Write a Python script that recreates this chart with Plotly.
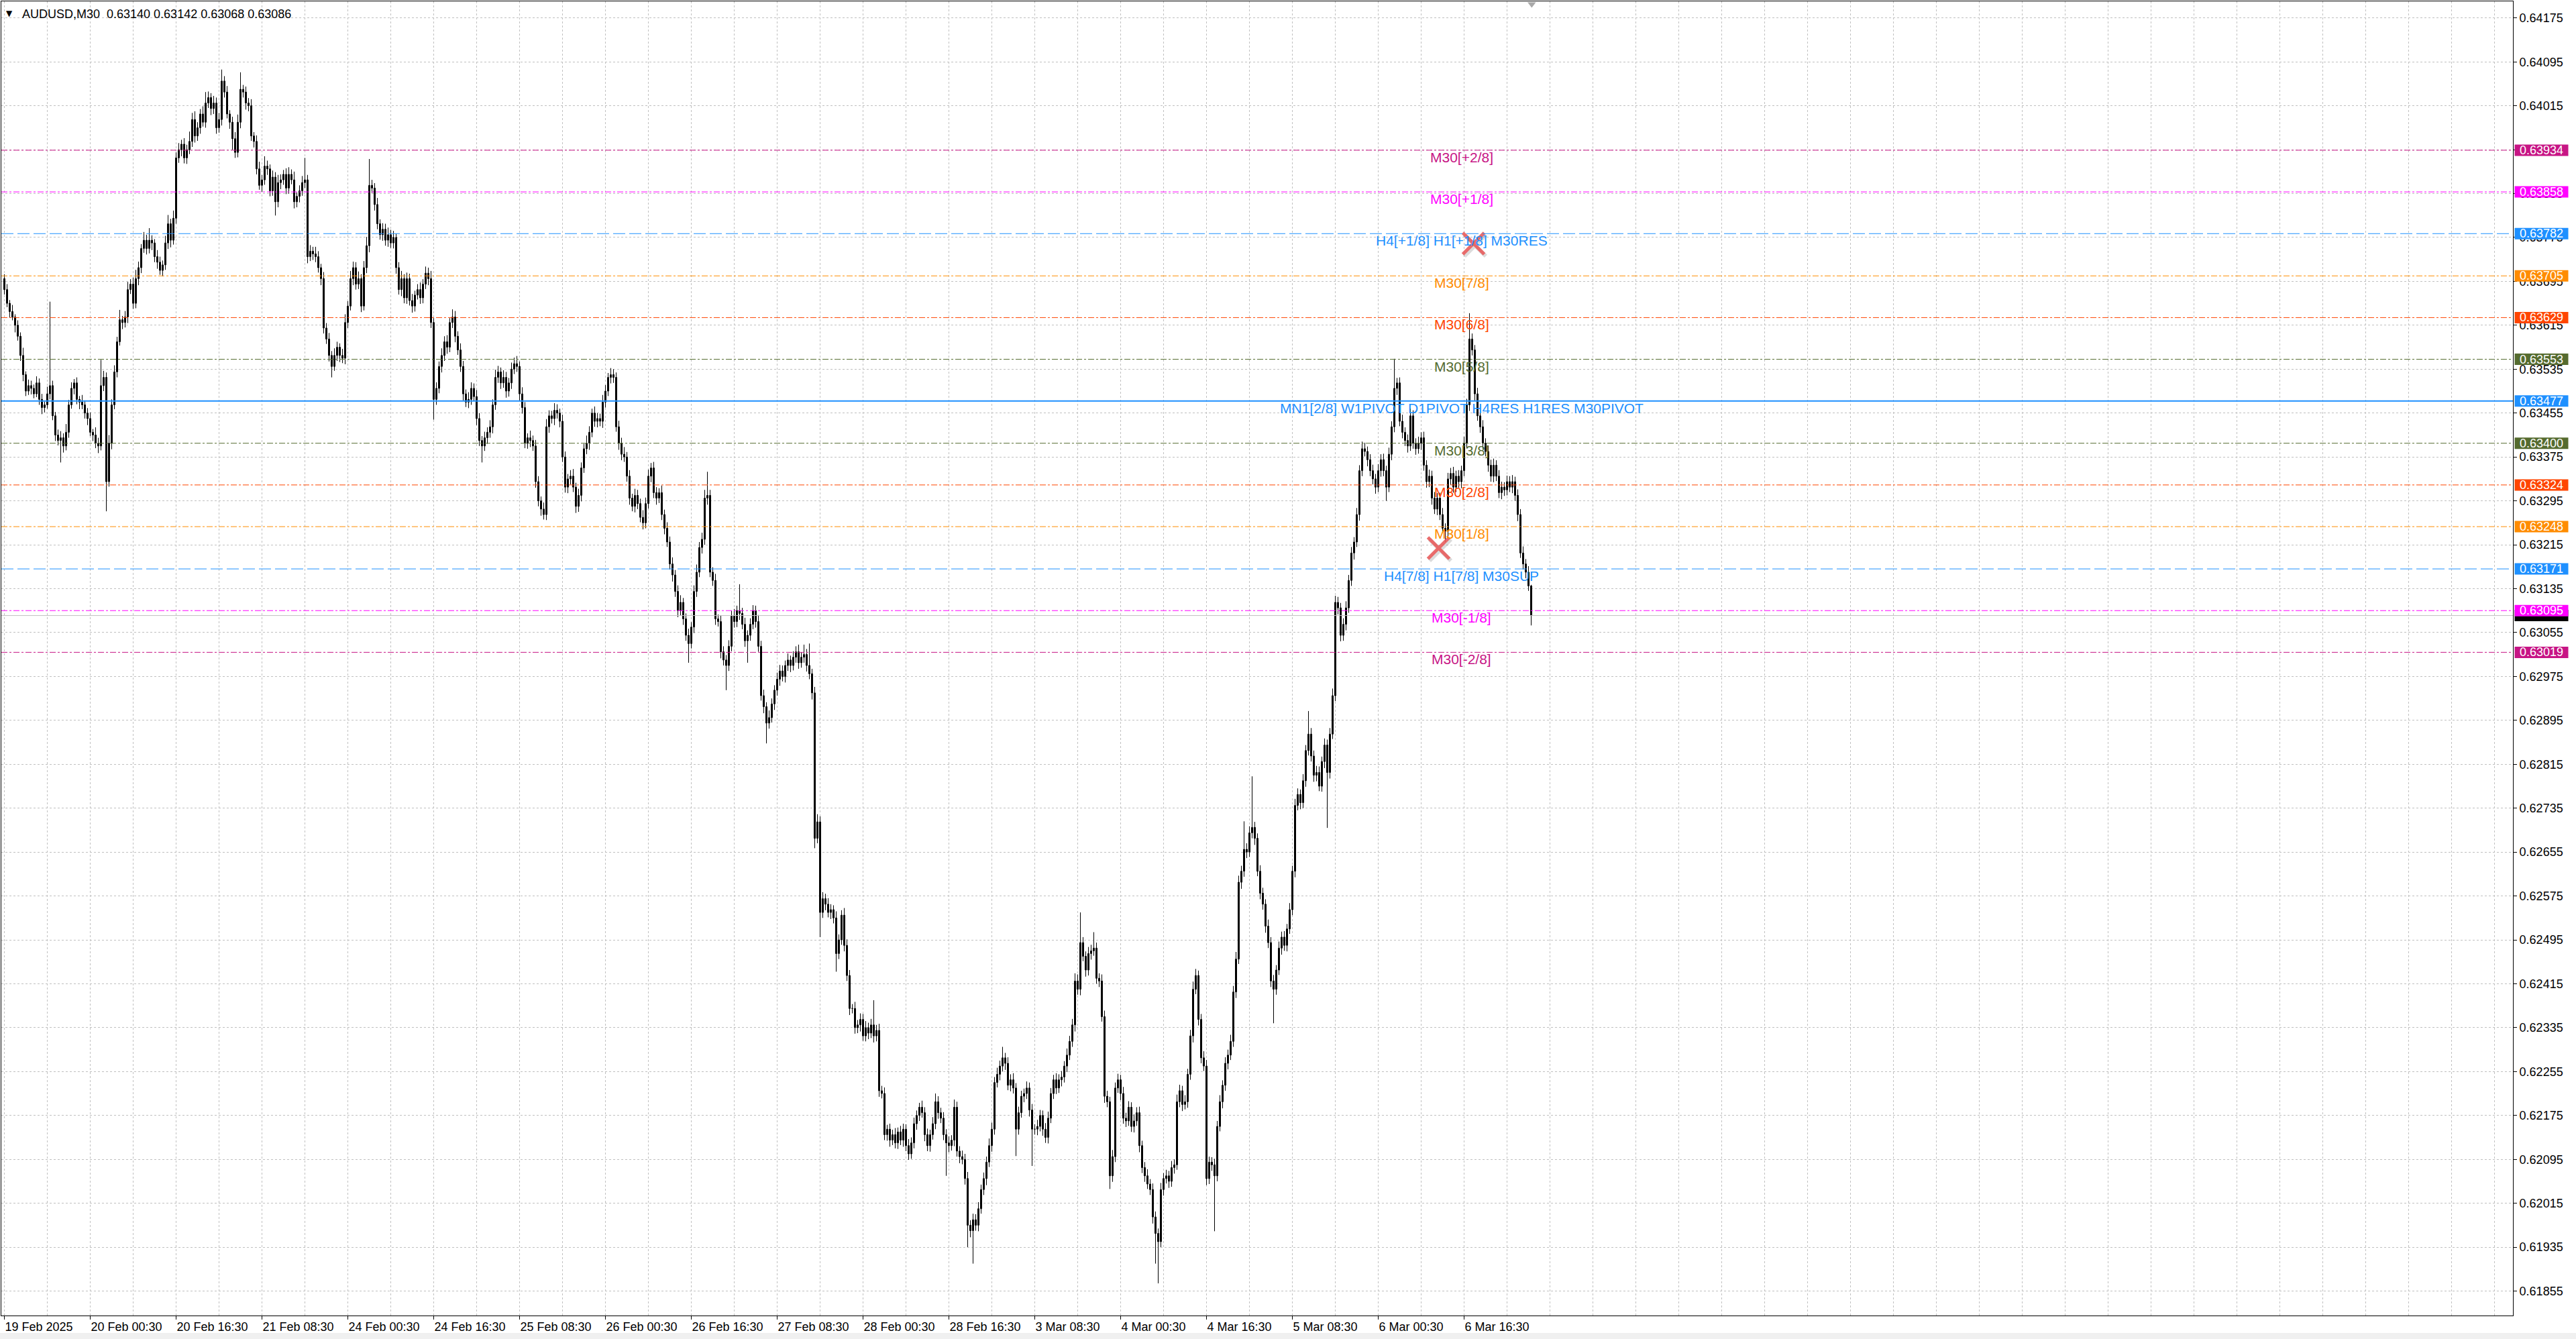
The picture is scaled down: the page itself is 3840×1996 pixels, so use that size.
import plotly.graph_objects as go

# ---------------- data (prices in points: price = 0.60000 + pts * 0.00001) ----------------
PRICE_BASE = 0.60000
POINT = 0.00001

first_open_pts = 3700
close_pts = [
    3680, 3655, 3640, 3630, 3615, 3595, 3560, 3525, 3495, 3505,
    3500, 3490, 3510, 3480, 3465, 3470, 3490, 3505, 3450, 3415,
    3405, 3410, 3395, 3420, 3470, 3500, 3510, 3480, 3475, 3470,
    3455, 3445, 3420, 3415, 3400, 3395, 3505, 3520, 3330, 3400,
    3470, 3530, 3585, 3625, 3620, 3630, 3680, 3690, 3655, 3700,
    3720, 3755, 3770, 3755, 3770, 3765, 3740, 3730, 3715, 3725,
    3765, 3800, 3770, 3810, 3920, 3935, 3945, 3920, 3935, 3950,
    3990, 3960, 3975, 4000, 3985, 4020, 4030, 4010, 4020, 3975,
    3990, 4060, 4040, 4000, 3985, 3955, 3930, 3985, 4045, 4040,
    4020, 4015, 3960, 3950, 3900, 3870, 3880, 3905, 3900, 3860,
    3885, 3840, 3875, 3880, 3890, 3865, 3890, 3880, 3840, 3850,
    3860, 3875, 3880, 3740, 3750, 3745, 3740, 3720, 3700, 3610,
    3590, 3560, 3540, 3560, 3575, 3560, 3555, 3620, 3650, 3700,
    3720, 3690, 3700, 3650, 3720, 3760, 3870, 3865, 3835, 3800,
    3780, 3790, 3770, 3780, 3765, 3775, 3720, 3680, 3700, 3665,
    3700, 3660, 3650, 3670, 3680, 3665, 3690, 3710, 3700, 3620,
    3480, 3500, 3540, 3560, 3585, 3575, 3620, 3630, 3595, 3570,
    3540, 3490, 3475, 3480, 3500, 3485, 3445, 3405, 3395, 3410,
    3420, 3430, 3470, 3520, 3530, 3510, 3520, 3495, 3510, 3535,
    3545, 3540, 3490, 3465, 3400, 3410, 3405, 3395, 3330, 3295,
    3280, 3270, 3430, 3450, 3445, 3460, 3455, 3440, 3375, 3320,
    3335, 3340, 3320, 3285, 3305, 3355, 3390, 3400, 3420, 3455,
    3440, 3445, 3440, 3475, 3495, 3520, 3525, 3520, 3430, 3400,
    3380, 3375, 3340, 3300, 3285, 3305, 3290, 3265, 3255, 3290,
    3340, 3355, 3310, 3300, 3310, 3270, 3245, 3220, 3180, 3160,
    3130, 3095, 3110, 3080, 3050, 3035, 3065, 3130, 3165, 3210,
    3225, 3300, 3305, 3165, 3150, 3080, 3075, 3020, 3005, 2995,
    3030, 3085, 3075, 3095, 3090, 3070, 3040, 3050, 3070, 3095,
    3075, 3030, 2940, 2920, 2890, 2900, 2925, 2950, 2970, 2985,
    2975, 2995, 3005, 2995, 3010, 3020, 3000, 3010, 3015, 2995,
    2980, 2945, 2680, 2710, 2545, 2570, 2560, 2545, 2550, 2535,
    2470, 2495, 2540, 2485, 2430, 2370, 2370, 2335, 2340, 2350,
    2320, 2335, 2325, 2340, 2320, 2330, 2220, 2215, 2140, 2150,
    2130, 2140, 2125, 2145, 2130, 2150, 2120, 2105, 2125, 2160,
    2175, 2190, 2180, 2140, 2120, 2140, 2160, 2200, 2180, 2170,
    2140, 2125, 2120, 2130, 2190, 2110, 2100, 2095, 2060, 1975,
    1965, 1985, 1975, 2005, 2040, 2060, 2090, 2120, 2150, 2235,
    2250, 2265, 2280, 2270, 2230, 2240, 2225, 2150, 2180, 2210,
    2215, 2225, 2185, 2150, 2150, 2155, 2175, 2150, 2135, 2170,
    2215, 2240, 2225, 2240, 2245, 2265, 2285, 2310, 2340, 2420,
    2405, 2490, 2465, 2440, 2470, 2475, 2480, 2425, 2420, 2355,
    2210, 2200, 2065, 2100, 2225, 2240, 2215, 2170, 2165, 2190,
    2155, 2165, 2180, 2120, 2080, 2065, 2050, 2040, 1990, 1960,
    1945, 2040, 2060, 2065, 2055, 2080, 2085, 2200, 2220, 2195,
    2200, 2250, 2320, 2405, 2430, 2350, 2280, 2265, 2060, 2090,
    2085, 2065, 2155, 2200, 2230, 2270, 2285, 2310, 2400, 2460,
    2600, 2620, 2660, 2655, 2690, 2700, 2680, 2620, 2580, 2560,
    2520, 2490, 2420, 2405, 2440, 2480, 2500, 2485, 2515, 2550,
    2620, 2740, 2760, 2745, 2785, 2840, 2870, 2830, 2795, 2800,
    2775, 2820, 2850, 2800, 2870, 2940, 3110, 3100, 3050, 3070,
    3100, 3150, 3200, 3220, 3270, 3350, 3390, 3385, 3370, 3350,
    3335, 3320, 3350, 3370, 3350, 3320, 3380, 3430, 3500, 3510,
    3440, 3420, 3405, 3395, 3450, 3400, 3390, 3400, 3410, 3360,
    3330, 3340, 3300, 3280, 3300, 3270, 3245, 3240, 3335, 3345,
    3320, 3340, 3330, 3350, 3400, 3470, 3590, 3570, 3490, 3450,
    3430, 3400, 3385, 3360, 3340, 3360, 3340, 3310, 3320, 3315,
    3330, 3320, 3330, 3305, 3270, 3200, 3180, 3165, 3140, 3086,
]
wick_up_pts = [
    8, 10, 6, 12, 5, 9, 7, 14, 6, 11,
    9, 7, 12, 8, 10, 6, 13, 153, 9, 7,
    10, 12, 8, 15, 9, 11, 7, 10, 6, 13,
    8, 9, 11, 6, 14, 10, 47, 12, 9, 15,
    10, 12, 9, 18, 7, 11, 14, 9, 12, 16,
    11, 8, 15, 10, 22, 9, 7, 12, 10, 8,
    13, 16, 9, 14, 10, 12, 8, 11, 9, 18,
    12, 15, 10, 9, 14, 20, 11, 8, 13, 10,
    12, 21, 9, 11, 7, 10, 12, 14, 31, 8,
    10, 9, 12, 7, 11, 13, 9, 18, 10, 8,
    12, 9, 14, 10, 8, 11, 13, 9, 15, 7,
    10, 12, 40, 9, 11, 8, 13, 10, 7, 12,
    9, 11, 8, 13, 10, 7, 12, 15, 9, 14,
    11, 10, 13, 8, 12, 16, 48, 10, 9, 12,
    8, 11, 10, 13, 9, 12, 7, 10, 14, 8,
    11, 9, 12, 8, 10, 13, 9, 12, 10, 14,
    8, 11, 9, 13, 10, 12, 8, 14, 11, 9,
    12, 10, 8, 13, 11, 9, 12, 10, 8, 11,
    9, 12, 10, 14, 11, 8, 13, 10, 9, 12,
    11, 14, 9, 12, 10, 8, 13, 9, 11, 10,
    8, 12, 14, 10, 9, 13, 11, 8, 12, 10,
    9, 11, 13, 8, 12, 10, 9, 14, 11, 8,
    12, 10, 9, 13, 11, 8, 12, 10, 9, 11,
    10, 13, 9, 11, 8, 12, 10, 9, 13, 11,
    12, 9, 11, 10, 8, 13, 9, 11, 10, 12,
    9, 11, 13, 8, 10, 12, 9, 11, 14, 10,
    12, 15, 43, 10, 9, 12, 8, 11, 10, 9,
    11, 10, 13, 9, 48, 10, 12, 9, 11, 10,
    9, 12, 10, 11, 8, 13, 10, 9, 12, 11,
    10, 9, 12, 8, 11, 10, 13, 9, 18, 10,
    40, 9, 11, 14, 10, 12, 9, 11, 10, 8,
    12, 10, 9, 13, 11, 10, 8, 12, 9, 11,
    10, 12, 9, 11, 45, 10, 12, 9, 11, 8,
    10, 9, 12, 8, 11, 10, 9, 12, 10, 11,
    9, 8, 12, 10, 11, 9, 12, 15, 10, 9,
    11, 10, 12, 9, 14, 10, 9, 11, 10, 12,
    9, 11, 10, 12, 9, 11, 10, 13, 12, 10,
    12, 10, 20, 9, 11, 10, 12, 9, 11, 10,
    9, 12, 10, 11, 9, 12, 10, 9, 11, 12,
    10, 9, 12, 10, 11, 9, 12, 10, 11, 14,
    12, 55, 10, 9, 12, 11, 29, 10, 9, 12,
    11, 10, 9, 12, 10, 11, 9, 12, 10, 11,
    9, 12, 10, 11, 9, 10, 12, 9, 11, 10,
    9, 12, 10, 11, 9, 12, 10, 13, 11, 9,
    12, 10, 11, 14, 12, 9, 10, 12, 11, 10,
    9, 11, 10, 12, 9, 11, 10, 12, 11, 13,
    12, 10, 51, 11, 12, 93, 10, 9, 11, 10,
    9, 12, 10, 11, 9, 12, 10, 11, 9, 12,
    10, 12, 11, 9, 12, 10, 42, 11, 10, 12,
    11, 9, 12, 10, 11, 13, 12, 10, 9, 11,
    12, 10, 11, 9, 12, 10, 13, 11, 9, 10,
    11, 9, 12, 10, 11, 9, 12, 10, 54, 9,
    10, 12, 9, 11, 13, 10, 9, 12, 10, 11,
    9, 12, 10, 11, 9, 10, 12, 9, 11, 10,
    12, 10, 11, 9, 12, 11, 47, 10, 9, 11,
    10, 12, 9, 11, 10, 12, 9, 11, 10, 9,
    11, 10, 12, 9, 11, 10, 12, 9, 11, 2,
]
wick_dn_pts = [
    9, 7, 11, 6, 13, 8, 10, 12, 9, 7,
    11, 8, 6, 10, 12, 9, 7, 10, 8, 11,
    9, 40, 12, 8, 10, 7, 11, 9, 13, 8,
    10, 12, 7, 11, 9, 13, 8, 10, 54, 9,
    11, 8, 10, 7, 12, 9, 11, 8, 10, 9,
    12, 10, 8, 11, 9, 13, 10, 12, 8, 11,
    9, 11, 13, 8, 10, 9, 12, 10, 11, 8,
    10, 12, 9, 11, 8, 10, 9, 12, 10, 11,
    9, 11, 10, 8, 12, 20, 10, 9, 11, 10,
    12, 10, 9, 11, 10, 8, 12, 9, 11, 10,
    9, 25, 10, 12, 9, 11, 10, 8, 12, 10,
    11, 9, 10, 12, 8, 11, 10, 9, 12, 10,
    9, 11, 20, 8, 10, 12, 9, 11, 10, 8,
    12, 10, 9, 11, 8, 10, 12, 9, 11, 10,
    9, 11, 10, 12, 9, 10, 11, 9, 12, 10,
    11, 9, 12, 10, 8, 11, 10, 9, 12, 10,
    37, 10, 9, 11, 10, 12, 9, 10, 11, 9,
    10, 12, 9, 11, 10, 8, 12, 10, 30, 9,
    11, 10, 12, 9, 10, 11, 9, 12, 10, 11,
    9, 10, 12, 11, 9, 10, 12, 9, 11, 10,
    12, 9, 10, 11, 9, 12, 10, 11, 9, 10,
    11, 10, 9, 12, 10, 11, 9, 10, 12, 9,
    10, 11, 9, 12, 10, 9, 11, 10, 9, 12,
    11, 9, 10, 12, 9, 11, 10, 9, 12, 10,
    9, 11, 10, 12, 9, 10, 11, 9, 10, 12,
    10, 12, 9, 11, 10, 35, 9, 11, 10, 9,
    11, 10, 12, 9, 10, 11, 9, 12, 10, 45,
    10, 9, 11, 10, 12, 9, 11, 40, 10, 9,
    11, 10, 9, 12, 37, 10, 9, 11, 10, 12,
    9, 11, 10, 12, 9, 10, 11, 9, 10, 11,
    10, 12, 18, 9, 45, 10, 11, 9, 12, 10,
    33, 10, 9, 11, 10, 12, 9, 11, 10, 12,
    9, 10, 11, 9, 12, 10, 11, 9, 10, 11,
    12, 9, 10, 11, 9, 12, 10, 11, 9, 10,
    11, 10, 9, 12, 10, 11, 9, 10, 11, 9,
    10, 60, 12, 9, 11, 10, 12, 9, 11, 40,
    12, 60, 10, 11, 9, 10, 12, 9, 11, 10,
    9, 11, 10, 12, 9, 11, 10, 49, 10, 9,
    11, 10, 12, 67, 10, 11, 9, 12, 10, 11,
    9, 10, 11, 9, 12, 10, 11, 9, 10, 12,
    10, 11, 9, 12, 10, 11, 9, 10, 11, 9,
    12, 10, 24, 11, 10, 9, 12, 10, 11, 9,
    10, 11, 9, 12, 10, 11, 9, 10, 12, 55,
    76, 10, 11, 9, 12, 10, 11, 9, 10, 12,
    9, 11, 10, 12, 9, 11, 10, 9, 12, 10,
    11, 101, 10, 9, 12, 10, 11, 9, 10, 11,
    9, 12, 10, 11, 9, 10, 12, 9, 11, 10,
    12, 10, 11, 62, 10, 9, 12, 10, 11, 9,
    10, 11, 9, 12, 10, 11, 9, 10, 12, 11,
    9, 10, 12, 101, 11, 9, 10, 12, 11, 10,
    11, 9, 10, 12, 9, 11, 10, 9, 12, 10,
    10, 12, 9, 11, 10, 25, 9, 11, 10, 12,
    9, 11, 10, 12, 9, 10, 11, 9, 12, 10,
    11, 10, 12, 9, 11, 10, 9, 20, 10, 11,
    10, 9, 11, 12, 10, 9, 11, 10, 12, 9,
    11, 10, 9, 12, 10, 11, 9, 10, 12, 11,
    10, 9, 11, 10, 12, 9, 10, 11, 9, 18,
]

x_tick_bars = [0, 32, 64, 96, 128, 160, 192, 224, 256, 288, 320, 352, 384, 416, 448, 480, 512, 544]
x_tick_labels = ["19 Feb 2025", "20 Feb 00:30", "20 Feb 16:30", "21 Feb 08:30", "24 Feb 00:30",
                 "24 Feb 16:30", "25 Feb 08:30", "26 Feb 00:30", "26 Feb 16:30", "27 Feb 08:30",
                 "28 Feb 00:30", "28 Feb 16:30", "3 Mar 08:30", "4 Mar 00:30", "4 Mar 16:30",
                 "5 Mar 08:30", "6 Mar 00:30", "6 Mar 16:30"]
y_tick_labels = ["0.61855", "0.61935", "0.62015", "0.62095", "0.62175", "0.62255", "0.62335",
                 "0.62415", "0.62495", "0.62575", "0.62655", "0.62735", "0.62815", "0.62895",
                 "0.62975", "0.63055", "0.63135", "0.63215", "0.63295", "0.63375", "0.63455",
                 "0.63535", "0.63615", "0.63695", "0.63775", "0.63855", "0.63935", "0.64015",
                 "0.64095", "0.64175"]

level_prices = [0.63934, 0.63858, 0.63782, 0.63705, 0.63629, 0.63553, 0.63477,
                0.63400, 0.63324, 0.63248, 0.63171, 0.63095, 0.63019]
level_labels = ["M30[+2/8]", "M30[+1/8]", "H4[+1/8] H1[+1/8] M30RES", "M30[7/8]", "M30[6/8]",
                "M30[5/8]", "MN1[2/8] W1PIVOT D1PIVOT H4RES H1RES M30PIVOT", "M30[3/8]",
                "M30[2/8]", "M30[1/8]", "H4[7/8] H1[7/8] M30SUP", "M30[-1/8]", "M30[-2/8]"]

bid_price = 0.63086
title_text = "AUDUSD,M30\u00a0\u00a00.63140 0.63142 0.63068 0.63086"
cross_bars = [534.5, 547.5]
cross_prices = [0.63209, 0.63764]

# ---------------- styles ----------------
C_MVR, C_MAG, C_BLUE, C_ORG, C_ORR, C_OLV = "#C71585", "#FF00FF", "#1E90FF", "#FF8C00", "#FF4500", "#556B2F"
DASHDOT = "9px,3px,3px,3px"
LONGDASH = "18px,6px"
level_styles = [
    (C_MVR, DASHDOT, 1), (C_MAG, DASHDOT, 1), (C_BLUE, LONGDASH, 1), (C_ORG, DASHDOT, 1),
    (C_ORR, DASHDOT, 1), (C_OLV, DASHDOT, 1), (C_BLUE, "solid", 2), (C_OLV, DASHDOT, 1),
    (C_ORR, DASHDOT, 1), (C_ORG, DASHDOT, 1), (C_BLUE, LONGDASH, 1), (C_MAG, DASHDOT, 1),
    (C_MVR, DASHDOT, 1),
]
FONT = "Liberation Sans, Arial, sans-serif"
GRID = "#C0C0C0"
W, Hh = 3840, 1996
ML, MR, MT, MB = 2, 94, 2, 35
PW = W - ML - MR
PH = Hh - MT - MB
Y_TOP, Y_BOT = 0.642053, 0.618104
X_RANGE = [-1.125, 934.875]
LABEL_X = 543
px_per_price = PH / (Y_TOP - Y_BOT)

# ---------------- build OHLC ----------------
n = len(close_pts)
assert len(wick_up_pts) == n and len(wick_dn_pts) == n, (n, len(wick_up_pts), len(wick_dn_pts))
open_pts = [first_open_pts] + close_pts[:-1]


def to_price(v):
    return round(PRICE_BASE + v * POINT, 5)


O = [to_price(v) for v in open_pts]
C = [to_price(v) for v in close_pts]
Hi = [to_price(max(o, c) + w) for o, c, w in zip(open_pts, close_pts, wick_up_pts)]
Lo = [to_price(min(o, c) - w) for o, c, w in zip(open_pts, close_pts, wick_dn_pts)]

wx, wy = [], []
for k in range(n):
    wx += [k, k, None]
    wy += [Lo[k], Hi[k], None]

bull_x, bull_base, bull_h = [], [], []
bear_x, bear_base, bear_h = [], [], []
for k in range(n):
    b = min(O[k], C[k])
    h = max(abs(C[k] - O[k]), 0.000001)
    if C[k] >= O[k]:
        bull_x.append(k); bull_base.append(b); bull_h.append(h)
    else:
        bear_x.append(k); bear_base.append(b); bear_h.append(h)

fig = go.Figure()
fig.add_trace(go.Scatter(x=wx, y=wy, mode="lines", line=dict(color="black", width=1),
                         hoverinfo="skip", connectgaps=False))
fig.add_trace(go.Bar(x=bull_x, y=bull_h, base=bull_base, width=0.5,
                     marker=dict(color="white", line=dict(color="black", width=1))))
fig.add_trace(go.Bar(x=bear_x, y=bear_h, base=bear_base, width=0.5,
                     marker=dict(color="black", line=dict(color="black", width=1))))

# red cross objects (with soft shadow)
fig.add_trace(go.Scatter(x=[b + 0.6 for b in cross_bars], y=[p - 3 / px_per_price for p in cross_prices],
                         mode="markers", cliponaxis=False,
                         marker=dict(symbol="x-thin", size=32, line=dict(width=6, color="rgba(90,90,90,0.22)"))))
fig.add_trace(go.Scatter(x=cross_bars, y=cross_prices, mode="markers", cliponaxis=False,
                         marker=dict(symbol="x-thin", size=32, line=dict(width=5, color="rgba(232,92,92,0.9)"))))

# chart shift marker at top
fig.add_trace(go.Scatter(x=[n - 0.8], y=[Y_TOP - 4 / px_per_price], mode="markers", cliponaxis=False,
                         marker=dict(symbol="triangle-down", size=11, color="#A9A9A9")))

shapes = []
annotations = []
for p, lab, (col, dash, lw) in zip(level_prices, level_labels, level_styles):
    shapes.append(dict(type="line", xref="paper", x0=0, x1=1, yref="y", y0=p, y1=p,
                       line=dict(color=col, width=lw, dash=dash), layer="above"))
    annotations.append(dict(x=LABEL_X, y=p, xref="x", yref="y", text=lab, showarrow=False,
                            xanchor="center", yanchor="top", yshift=3,
                            font=dict(family=FONT, size=21, color=col)))
# bid line
shapes.append(dict(type="line", xref="paper", x0=0, x1=1, yref="y", y0=bid_price, y1=bid_price,
                   line=dict(color="#C0C0C0", width=1), layer="above"))

# right-axis price boxes
bx0 = (3748.5 - ML) / PW
bx1 = (3828.5 - ML) / PW
half = 8.5 / px_per_price
shapes.append(dict(type="rect", xref="paper", x0=bx0, x1=bx1, yref="y", y0=bid_price - half,
                   y1=bid_price + half, fillcolor="black", line=dict(width=0), layer="above"))
for p, (col, dash, lw) in zip(level_prices, level_styles):
    shapes.append(dict(type="rect", xref="paper", x0=bx0, x1=bx1, yref="y", y0=p - half, y1=p + half,
                       fillcolor=col, line=dict(width=0), layer="above"))
    annotations.append(dict(x=(bx0 + bx1) / 2, y=p, xref="paper", yref="y", text=f"{p:.5f}",
                            showarrow=False, xanchor="center", yanchor="middle",
                            font=dict(family=FONT, size=18, color="white")))

# bottom status strip
shapes.append(dict(type="rect", xref="paper", x0=-0.01, x1=1.03, yref="paper",
                   y0=-(1987 - (MT + PH)) / PH, y1=-(Hh + 5 - (MT + PH)) / PH,
                   fillcolor="#F0F0F0", line=dict(width=0), layer="above"))

# title (triangle + symbol/OHLC text)
annotations.append(dict(x=(7 - ML) / PW, y=1 - (20 - MT) / PH, xref="paper", yref="paper",
                        text="\u25BC", showarrow=False, xanchor="left", yanchor="middle",
                        font=dict(family="DejaVu Sans", size=12, color="black")))
annotations.append(dict(x=(31 - ML) / PW, y=1 - (21 - MT) / PH, xref="paper", yref="paper",
                        text=title_text, showarrow=False, xanchor="left", yanchor="middle",
                        font=dict(family=FONT, size=18, color="black")))

fig.update_layout(
    width=W, height=Hh, margin=dict(l=ML, r=MR, t=MT, b=MB),
    paper_bgcolor="white", plot_bgcolor="white", showlegend=False,
    barmode="overlay", hovermode=False, shapes=shapes, annotations=annotations,
)
fig.update_xaxes(
    range=X_RANGE, tickmode="array", tickvals=x_tick_bars, ticktext=x_tick_labels,
    ticks="outside", ticklen=5, tickcolor="black", ticklabelposition="outside right",
    tickfont=dict(family=FONT, size=18, color="black"),
    showgrid=True, gridcolor=GRID, griddash="3px,3px", gridwidth=1,
    minor=dict(tickmode="linear", tick0=0, dtick=16, showgrid=True, gridcolor=GRID,
               griddash="3px,3px", gridwidth=1, ticks=""),
    showline=True, linecolor="black", linewidth=1, mirror=True, zeroline=False,
)
fig.update_yaxes(
    side="right", range=[Y_BOT, Y_TOP], tickmode="array",
    tickvals=[float(t) for t in y_tick_labels], ticktext=y_tick_labels,
    ticks="outside", ticklen=5, tickcolor="black",
    tickfont=dict(family=FONT, size=18, color="black"),
    showgrid=True, gridcolor=GRID, griddash="3px,3px", gridwidth=1,
    showline=True, linecolor="black", linewidth=1, mirror=True, zeroline=False,
)

fig.write_html("out.html", config={"displayModeBar": False},
               post_script="document.body.style.margin='0';document.body.style.padding='0';"
                           "document.documentElement.style.overflow='hidden';")
